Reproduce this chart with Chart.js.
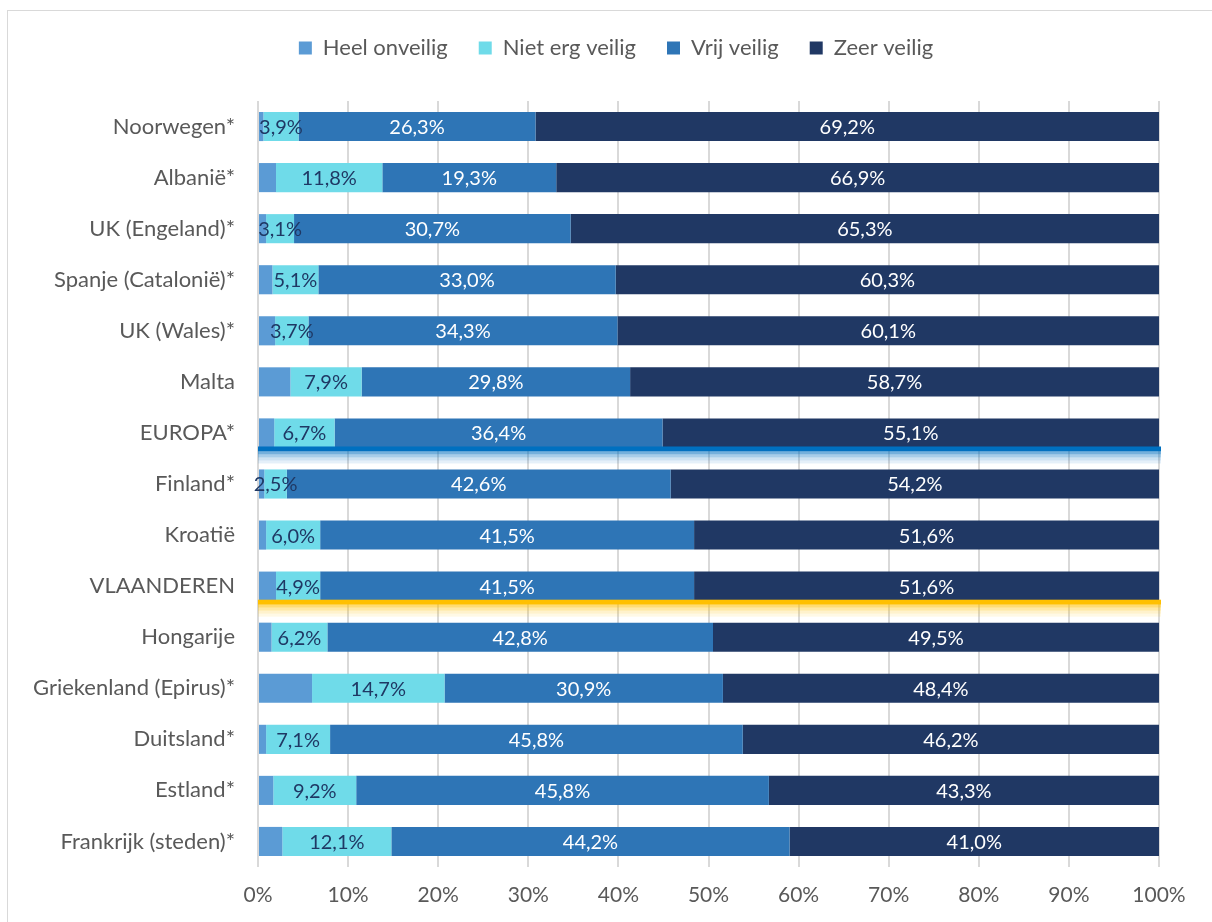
<!DOCTYPE html>
<html>
<head>
<meta charset="utf-8">
<script src="https://cdn.jsdelivr.net/npm/chart.js@4/dist/chart.umd.min.js"></script>
<style>
  html, body { margin: 0; padding: 0; background: #fff; }
  #wrap { position: relative; width: 1212px; height: 922px; }
  #frame { position: absolute; left: 7px; top: 10px; width: 1220px; height: 930px; border: 1px solid #d9d9d9; box-sizing: border-box; }
  canvas { position: absolute; left: 0; top: 0; }
</style>
</head>
<body>
<div id="wrap">
  <div id="frame"></div>
  <canvas id="safetyChart" width="1212" height="922"></canvas>
</div>
<script>
// categories, top to bottom
var countries = ["Noorwegen*", "Albanië*", "UK (Engeland)*", "Spanje (Catalonië)*", "UK (Wales)*", "Malta",
    "EUROPA*", "Finland*", "Kroatië", "VLAANDEREN", "Hongarije", "Griekenland (Epirus)*", "Duitsland*",
    "Estland*", "Frankrijk (steden)*"];

// percentages per answer
var heelOnveilig  = [0.6, 2.0, 0.9, 1.6, 1.9, 3.6, 1.8, 0.7, 0.9, 2.0, 1.5, 6.0, 0.9, 1.7, 2.7];
var nietErgVeilig = [3.9, 11.8, 3.1, 5.1, 3.7, 7.9, 6.7, 2.5, 6.0, 4.9, 6.2, 14.7, 7.1, 9.2, 12.1];
var vrijVeilig    = [26.3, 19.3, 30.7, 33.0, 34.3, 29.8, 36.4, 42.6, 41.5, 41.5, 42.8, 30.9, 45.8, 45.8, 44.2];
var zeerVeilig    = [69.2, 66.9, 65.3, 60.3, 60.1, 58.7, 55.1, 54.2, 51.6, 51.6, 49.5, 48.4, 46.2, 43.3, 41.0];

var xTicks = [0, 10, 20, 30, 40, 50, 60, 70, 80, 90, 100];

var FONT = "Lato, 'Open Sans', sans-serif";
var textGrey = "#595959";

// rows that get a coloured underline
var highlights = { "EUROPA*": "#0070C0", "VLAANDEREN": "#FFC000" };

var labelPlugin = {
    id: "segmentLabels",
    afterDatasetsDraw: function (chart) {
        var ctx = chart.ctx;
        ctx.save();
        ctx.font = "20px " + FONT;
        ctx.textAlign = "center";
        ctx.textBaseline = "middle";
        chart.data.datasets.forEach(function (ds, di) {
            if (di === 0) return; // no labels on "Heel onveilig"
            chart.getDatasetMeta(di).data.forEach(function (bar, i) {
                var txt = ds.data[i].toFixed(1).replace(".", ",") + "%";
                ctx.fillStyle = di === 1 ? "#1F3864" : "#ffffff";
                ctx.fillText(txt, (bar.x + bar.base) / 2, bar.y + 1);
            });
        });
        ctx.restore();
    }
};

var underlinePlugin = {
    id: "underlines",
    afterDatasetsDraw: function (chart) {
        var ctx = chart.ctx;
        var xs = chart.scales.x;
        var meta = chart.getDatasetMeta(0);
        ctx.save();
        countries.forEach(function (c, i) {
            var col = highlights[c];
            if (!col) return;
            var bar = meta.data[i];
            var yb = bar.y + bar.height / 2;
            var x0 = xs.getPixelForValue(0), x1 = xs.getPixelForValue(100) + 2;
            ctx.fillStyle = col;
            ctx.globalAlpha = 1;
            ctx.fillRect(x0, yb - 1, x1 - x0, 5);
            var alphas = [0.55, 0.35, 0.2, 0.1];
            alphas.forEach(function (a, k) {
                ctx.globalAlpha = a;
                ctx.fillRect(x0, yb + 4 + k * 3, x1 - x0, 3);
            });
        });
        ctx.restore();
    }
};

// push the plot area down below the legend, and nudge the legend right
var legendGap = {
    id: "legendGap",
    beforeInit: function (chart) {
        var fit = chart.legend.fit;
        chart.legend.fit = function () {
            fit.call(this);
            this.height += 32;
        };
    },
    afterLayout: function (chart) {
        chart.legend.left += 53;
    }
};

var ctx = document.getElementById("safetyChart").getContext("2d");

var chart = new Chart(ctx, {
    type: "bar",
    data: {
        labels: countries,
        datasets: [
            { label: "Heel onveilig", data: heelOnveilig, backgroundColor: "#5B9BD5" },
            { label: "Niet erg veilig", data: nietErgVeilig, backgroundColor: "#6FDBE9" },
            { label: "Vrij veilig", data: vrijVeilig, backgroundColor: "#2E75B6" },
            { label: "Zeer veilig", data: zeerVeilig, backgroundColor: "#203864" }
        ]
    },
    options: {
        indexAxis: "y",
        responsive: false,
        animation: false,
        datasets: { bar: { barPercentage: 0.57, categoryPercentage: 1.0 } },
        layout: { padding: { left: 20, right: 53, top: 6, bottom: 0 } },
        plugins: {
            legend: {
                position: "top",
                labels: {
                    boxWidth: 13, boxHeight: 13, padding: 31,
                    color: textGrey, font: { family: FONT, size: 22 }
                },
                onClick: null
            },
            tooltip: { enabled: false }
        },
        scales: {
            x: {
                stacked: true, min: 0, max: 100,
                afterBuildTicks: function (scale) {
                    scale.ticks = xTicks.map(function (v) { return { value: v }; });
                },
                afterFit: function (scale) { scale.height = 55; },
                ticks: {
                    color: textGrey, font: { family: FONT, size: 21 }, padding: 16,
                    callback: function (v) { return v + "%"; }
                },
                grid: { color: "#d9d9d9", lineWidth: 2, drawTicks: false },
                border: { display: false }
            },
            y: {
                stacked: true,
                afterFit: function (scale) { scale.width = 238; },
                ticks: { color: textGrey, font: { family: FONT, size: 22 }, padding: 15 },
                grid: { display: false },
                border: { display: false }
            }
        }
    },
    plugins: [labelPlugin, underlinePlugin, legendGap]
});
</script>
</body>
</html>
